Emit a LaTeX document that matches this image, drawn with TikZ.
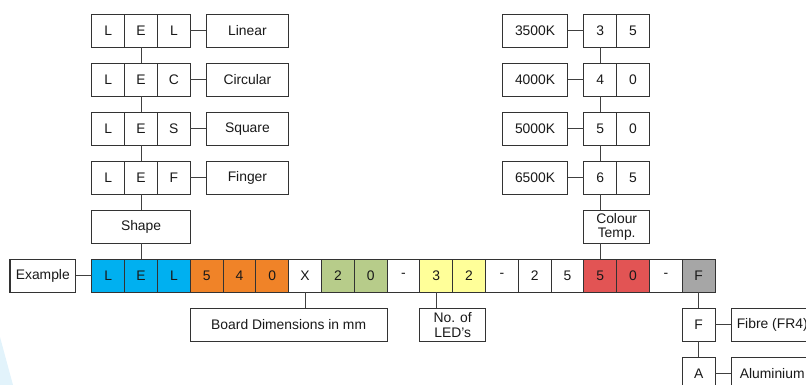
\documentclass[tikz,border=0pt]{standalone}
\usepackage{fontspec}
\setmainfont{Liberation Sans}
\usetikzlibrary{positioning}

\definecolor{codeblue}{RGB}{0,176,240}
\definecolor{codeorange}{RGB}{240,131,40}
\definecolor{codegreen}{RGB}{183,204,138}
\definecolor{codeyellow}{RGB}{255,255,153}
\definecolor{codered}{RGB}{226,84,84}
\definecolor{codegrey}{RGB}{166,166,166}
\definecolor{paleblue}{RGB}{226,243,251}

\begin{document}
\begin{tikzpicture}[
    x=0.75pt, y=-0.75pt,
    node distance=12pt and 12.2pt,
    every node/.style={font=\fontsize{10.4}{11}\selectfont, text=black!90},
    % Code cells and label boxes
    cell/.style={rectangle, draw=black!80, line width=0.8pt, fill=white,
        minimum width=24.6pt, minimum height=24.75pt, inner sep=0pt, outer sep=0pt},
    labelbox/.style={cell, minimum width=61.7pt},
    shortbox/.style={cell, minimum width=49.2pt, align=center},
    link/.style={draw=black!75, line width=0.8pt},
]
\useasboundingbox (0,0) rectangle (806,385);
\clip (0,0) rectangle (806,385);

% faint background corner
\fill[paleblue] (0,337) -- (13,385) -- (0,385) -- cycle;

% ============ MAIN CODE ROW ============
\node[shortbox] (example) at (42.8,275.8) {Example};

\node[cell, fill=codeblue, right=of example] (mL1) {L};
\node[cell, fill=codeblue, right=0pt of mL1] (mE) {E};
\node[cell, fill=codeblue, right=0pt of mE] (mL2) {L};
\node[cell, fill=codeorange, right=0pt of mL2] (m5a) {5};
\node[cell, fill=codeorange, right=0pt of m5a] (m4) {4};
\node[cell, fill=codeorange, right=0pt of m4] (m0a) {0};
\node[cell, right=0pt of m0a] (mX) {X};
\node[cell, fill=codegreen, right=0pt of mX] (m2a) {2};
\node[cell, fill=codegreen, right=0pt of m2a] (m0b) {0};
\node[cell, right=0pt of m0b] (mdash1) {-};
\node[cell, fill=codeyellow, right=0pt of mdash1] (m3) {3};
\node[cell, fill=codeyellow, right=0pt of m3] (m2b) {2};
\node[cell, right=0pt of m2b] (mdash2) {-};
\node[cell, right=0pt of mdash2] (m2c) {2};
\node[cell, right=0pt of m2c] (m5b) {5};
\node[cell, fill=codered, right=0pt of m5b] (m5c) {5};
\node[cell, fill=codered, right=0pt of m5c] (m0c) {0};
\node[cell, right=0pt of m0c] (mdash3) {-};
\node[cell, fill=codegrey, right=0pt of mdash3] (mF) {F};

\draw[link] (example) -- (mL1);

% ============ SHAPE (left column) ============
\node[cell, minimum width=73.8pt, above=of mE] (shape) {Shape};

\node[cell, above=of shape] (fE) {E};
\node[cell, left=0pt of fE] (fL) {L};
\node[cell, right=0pt of fE] (fF) {F};
\node[labelbox, right=12pt of fF] (finger) {Finger};

\node[cell, above=of fE] (sE) {E};
\node[cell, left=0pt of sE] (sL) {L};
\node[cell, right=0pt of sE] (sS) {S};
\node[labelbox, right=12pt of sS] (square) {Square};

\node[cell, above=of sE] (cE) {E};
\node[cell, left=0pt of cE] (cL) {L};
\node[cell, right=0pt of cE] (cC) {C};
\node[labelbox, right=12pt of cC] (circular) {Circular};

\node[cell, above=of cE] (lE) {E};
\node[cell, left=0pt of lE] (lL1) {L};
\node[cell, right=0pt of lE] (lL2) {L};
\node[labelbox, right=12pt of lL2] (linear) {Linear};

\draw[link] (mE) -- (shape);
\draw[link] (shape) -- (fE);
\draw[link] (fE) -- (sE);
\draw[link] (sE) -- (cE);
\draw[link] (cE) -- (lE);
\draw[link] (lL2) -- (linear);
\draw[link] (cC) -- (circular);
\draw[link] (sS) -- (square);
\draw[link] (fF) -- (finger);

% ============ COLOUR TEMP. (right column) ============
\node[shortbox, above=of m5c.north east] (colour) {Colour\\Temp.};

\node[cell, above right=12pt and 0pt of colour.north west] (t6) {6};
\node[cell, right=0pt of t6] (t65) {5};
\node[shortbox, left=12pt of t6] (k6500) {6500K};

\node[cell, above=of t6] (t5) {5};
\node[cell, right=0pt of t5] (t50) {0};
\node[shortbox, left=12pt of t5] (k5000) {5000K};

\node[cell, above=of t5] (t4) {4};
\node[cell, right=0pt of t4] (t40) {0};
\node[shortbox, left=12pt of t4] (k4000) {4000K};

\node[cell, above=of t4] (t3) {3};
\node[cell, right=0pt of t3] (t35) {5};
\node[shortbox, left=12pt of t3] (k3500) {3500K};

\draw[link] (m5c.north) -- (m5c.north |- colour.south);
\draw[link] (t6.south) -- (t6.south |- colour.north);
\draw[link] (t6) -- (t5);
\draw[link] (t5) -- (t4);
\draw[link] (t4) -- (t3);
\draw[link] (k3500) -- (t3);
\draw[link] (k4000) -- (t4);
\draw[link] (k5000) -- (t5);
\draw[link] (k6500) -- (t6);

% ============ BELOW THE ROW ============
\node[cell, minimum width=147.6pt, below right=12pt and 0pt of m5a.south west] (board) {Board Dimensions in mm};
\node[shortbox, below right=12pt and 0pt of m3.south west] (leds) {No. of\\LED’s};

\draw[link] (mX.south) -- (mX.south |- board.north);
\draw[link] (m3.south) -- (m3.south |- leds.north);

% Board material
\node[cell, below=of mF] (matF) {F};
\node[labelbox, right=12pt of matF] (fibre) {Fibre (FR4)};
\node[cell, below=of matF] (matA) {A};
\node[labelbox, right=12pt of matA] (alu) {Aluminium};

\draw[link] (mF) -- (matF);
\draw[link] (matF) -- (matA);
\draw[link] (matF) -- (fibre);
\draw[link] (matA) -- (alu);

\end{tikzpicture}
\end{document}
